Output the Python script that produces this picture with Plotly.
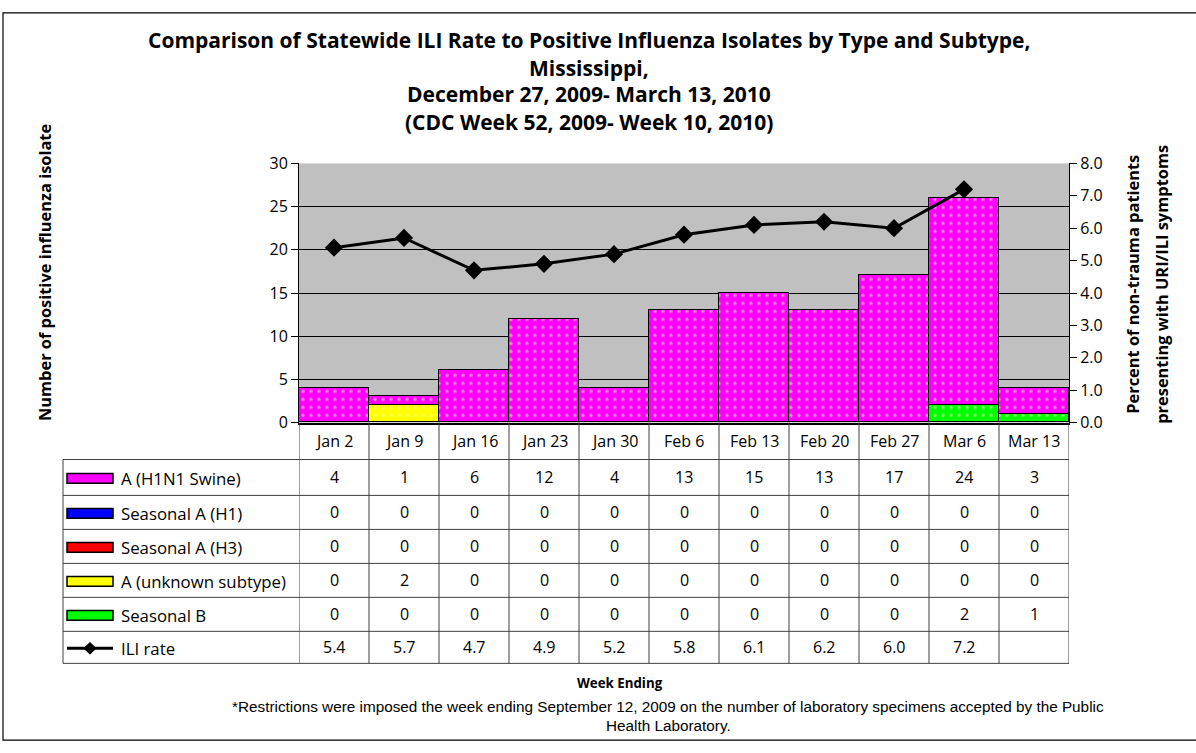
import plotly.graph_objects as go

# ---------------- data ----------------
weeks = ["Jan 2", "Jan 9", "Jan 16", "Jan 23", "Jan 30", "Feb 6",
         "Feb 13", "Feb 20", "Feb 27", "Mar 6", "Mar 13"]
h1n1_swine = [4, 1, 6, 12, 4, 13, 15, 13, 17, 24, 3]
seasonal_h1 = [0, 0, 0, 0, 0, 0, 0, 0, 0, 0, 0]
seasonal_h3 = [0, 0, 0, 0, 0, 0, 0, 0, 0, 0, 0]
unknown_subtype = [0, 2, 0, 0, 0, 0, 0, 0, 0, 0, 0]
seasonal_b = [0, 0, 0, 0, 0, 0, 0, 0, 0, 2, 1]
ili_rate = [5.4, 5.7, 4.7, 4.9, 5.2, 5.8, 6.1, 6.2, 6.0, 7.2, None]
left_ticks = [0, 5, 10, 15, 20, 25, 30]
right_ticks = [0, 1, 2, 3, 4, 5, 6, 7, 8]
right_tick_labels = ["0.0", "1.0", "2.0", "3.0", "4.0", "5.0", "6.0", "7.0", "8.0"]

series_names = ["A (H1N1 Swine)", "Seasonal A (H1)", "Seasonal A (H3)",
                "A (unknown subtype)", "Seasonal B"]
series_values = [h1n1_swine, seasonal_h1, seasonal_h3, unknown_subtype, seasonal_b]
series_colors = ["#FF00FF", "#0000FF", "#FF0000", "#FFFF00", "#00FF00"]

title_lines = [
    "Comparison of Statewide ILI Rate to Positive Influenza Isolates by Type and Subtype,",
    "Mississippi,",
    "December 27, 2009- March 13, 2010",
    "(CDC Week 52, 2009- Week 10, 2010)",
]
left_title = "Number of positive influenza isolate"
right_title_lines = ["Percent of non-trauma patients", "presenting with URI/ILI symptoms"]
x_title = "Week Ending"
footnote_lines = [
    "*Restrictions were imposed the week ending September 12, 2009 on the number of "
    "laboratory specimens accepted by the Public",
    "Health Laboratory.",
]

# ---------------- geometry helpers ----------------
W, H = 1196, 753
def px(x):
    return x / W
def py(y):
    return 1 - y / H

PL, PR, PT, PB = 299, 1069, 157, 424
row_lines = [462, 499, 534, 569, 604, 639, 672]
TL = 63

FONT = "'Open Sans', Lato, sans-serif"
NARROW = "'Liberation Sans Narrow', 'Arial Narrow', 'Liberation Sans', sans-serif"

fig = go.Figure()

# stacked bars (bottom to top)
for i in [4, 3, 2, 1, 0]:
    fig.add_trace(go.Bar(
        x=weeks, y=series_values[i], name=series_names[i],
        marker=dict(color=series_colors[i],
                    line=dict(color="black", width=1.5),
                    pattern=dict(shape=".", fgcolor="#FFFFB0", size=8, solidity=0.15)),
        showlegend=False, yaxis="y", xaxis="x",
    ))

fig.add_trace(go.Scatter(
    x=weeks, y=ili_rate, yaxis="y2", xaxis="x", mode="lines+markers",
    line=dict(color="black", width=3),
    marker=dict(symbol="diamond", size=14, color="black"),
    showlegend=False, connectgaps=False,
))

shapes = []
annotations = []

# outer border (right side falls outside the picture, as in the original)
shapes.append(dict(type="rect", xref="paper", yref="paper",
                   x0=px(3), x1=px(1210), y0=py(751), y1=py(2),
                   line=dict(color="black", width=1.2), fillcolor="rgba(0,0,0,0)"))

# table lines
for yy in row_lines:
    shapes.append(dict(type="line", xref="paper", yref="paper",
                       x0=px(TL), x1=px(PR), y0=py(yy), y1=py(yy),
                       line=dict(color="#404040", width=1)))
shapes.append(dict(type="line", xref="paper", yref="paper",
                   x0=px(TL), x1=px(TL), y0=py(row_lines[0]), y1=py(row_lines[-1]),
                   line=dict(color="#404040", width=1)))
for k in range(len(weeks) + 1):
    shapes.append(dict(type="line", xref="x", yref="paper",
                       x0=k - 0.5, x1=k - 0.5, y0=py(PB), y1=py(row_lines[-1]),
                       line=dict(color="#404040", width=1)))

TFS = 16
for w in weeks:
    annotations.append(dict(x=w, xref="x", y=py((PB + row_lines[0]) / 2), yref="paper",
                            text=w, showarrow=False, xanchor="center", yanchor="middle",
                            font=dict(family=FONT, size=TFS, color="black")))

table_rows = series_values + [ili_rate]
for r, vals in enumerate(table_rows):
    yc = (row_lines[r] + row_lines[r + 1]) / 2
    for w, v in zip(weeks, vals):
        if v is None:
            continue
        txt = f"{v:.1f}" if r == 5 else f"{v}"
        annotations.append(dict(x=w, xref="x", y=py(yc), yref="paper", text=txt,
                                showarrow=False, xanchor="center", yanchor="middle",
                                font=dict(family=FONT, size=TFS, color="black")))

row_labels = series_names + ["ILI rate"]
for r, lab in enumerate(row_labels):
    yc = (row_lines[r] + row_lines[r + 1]) / 2 + 1
    if r < 5:
        shapes.append(dict(type="rect", xref="paper", yref="paper",
                           x0=px(67), x1=px(113), y0=py(yc + 5), y1=py(yc - 5),
                           fillcolor=series_colors[r], line=dict(color="black", width=1.5)))
    else:
        shapes.append(dict(type="line", xref="paper", yref="paper",
                           x0=px(67), x1=px(113), y0=py(yc), y1=py(yc),
                           line=dict(color="black", width=3)))
        cx = 90
        path = (f"M {px(cx - 6)} {py(yc)} L {px(cx)} {py(yc - 6)} "
                f"L {px(cx + 6)} {py(yc)} L {px(cx)} {py(yc + 6)} Z")
        shapes.append(dict(type="path", xref="paper", yref="paper", path=path,
                           fillcolor="black", line=dict(color="black", width=1)))
    annotations.append(dict(x=px(119), xref="paper", y=py(yc), yref="paper", text=lab,
                            showarrow=False, xanchor="left", yanchor="middle",
                            font=dict(family=FONT, size=16.8, color="black")))

for yy, t in zip([30, 59, 86, 114], title_lines):
    annotations.append(dict(x=px(589), y=py(yy), xref="paper", yref="paper", text=f"<b>{t}</b>",
                            showarrow=False, xanchor="center", yanchor="middle",
                            font=dict(family=FONT, size=21, color="black")))

annotations.append(dict(x=px(44), y=py(270), xref="paper", yref="paper",
                        text=f"<b>{left_title}</b>", textangle=-90,
                        showarrow=False, xanchor="center", yanchor="middle",
                        font=dict(family=FONT, size=16.4, color="black")))
for xx, t in zip([1133, 1162], right_title_lines):
    annotations.append(dict(x=px(xx), y=py(282), xref="paper", yref="paper",
                            text=f"<b>{t}</b>", textangle=-90, showarrow=False,
                            xanchor="center", yanchor="middle",
                            font=dict(family=FONT, size=16.4, color="black")))
annotations.append(dict(x=px(620), y=py(692), xref="paper", yref="paper",
                        text=f"<b>{x_title}</b>", showarrow=False, xanchor="center",
                        yanchor="middle", font=dict(family=FONT, size=13.3, color="black")))
for yy, t in zip([716, 736], footnote_lines):
    annotations.append(dict(x=px(668), y=py(yy), xref="paper", yref="paper",
                            text=t, showarrow=False, xanchor="center", yanchor="middle",
                            font=dict(family=NARROW, size=15.3, color="black")))

fig.update_layout(
    width=W, height=H, margin=dict(l=0, r=0, t=0, b=0, pad=0),
    paper_bgcolor="white", plot_bgcolor="#C0C0C0",
    barmode="stack", bargap=0,
    xaxis=dict(domain=[px(PL), px(PR)], type="category", range=[-0.5, 10.5],
               showticklabels=False, ticks="", showline=True, linecolor="black",
               linewidth=1.5, showgrid=False, zeroline=False, fixedrange=True),
    yaxis=dict(domain=[py(PB), py(PT)], range=[0, 30], tickvals=left_ticks,
               ticks="outside", ticklen=7, tickcolor="black", showline=True,
               linecolor="black", linewidth=1, showgrid=True, gridcolor="black",
               gridwidth=1, zeroline=False,
               tickfont=dict(family=FONT, size=16, color="black")),
    yaxis2=dict(overlaying="y", side="right", anchor="x", range=[0, 8],
                tickvals=right_ticks, ticktext=right_tick_labels, ticks="outside",
                ticklen=7, tickcolor="black", showline=True, linecolor="black",
                linewidth=1, showgrid=False, zeroline=False,
                tickfont=dict(family=FONT, size=16, color="black")),
    shapes=shapes, annotations=annotations,
)

fig.write_html(
    "out.html",
    config={"displayModeBar": False},
    post_script="document.body.style.margin='0';document.body.style.overflow='hidden';",
)
